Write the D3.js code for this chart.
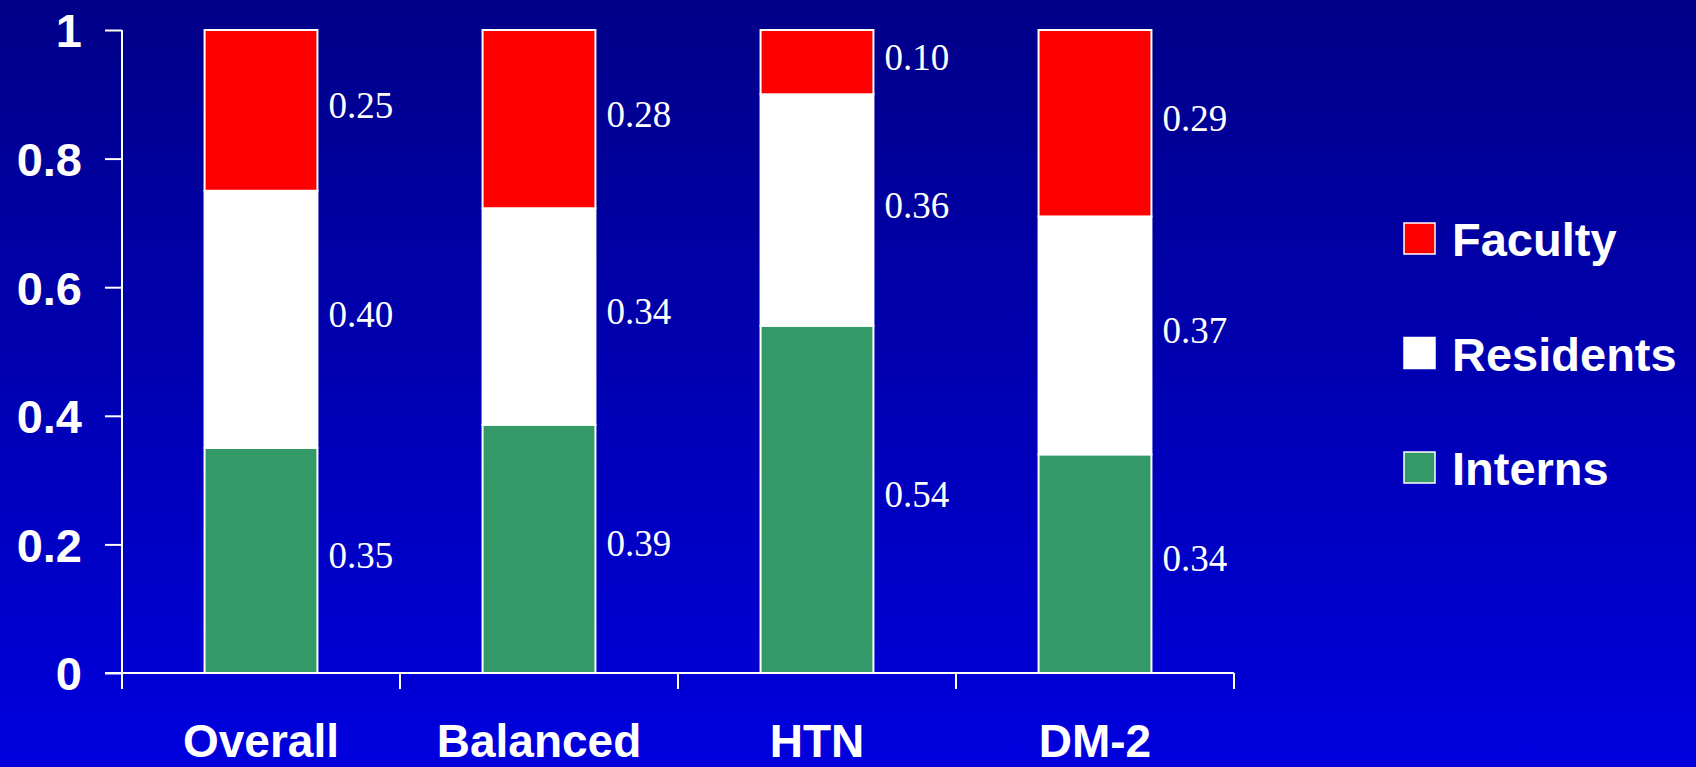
<!DOCTYPE html>
<html>
<head>
<meta charset="utf-8">
<script src="https://cdn.jsdelivr.net/npm/d3@7/dist/d3.min.js"></script>
<style>
  html, body { margin: 0; padding: 0; background: #0000b0; }
  svg { display: block; }
</style>
</head>
<body>
<svg id="chart" width="1696" height="767"></svg>
<script>
// ---- data ----
const categories = ["Overall", "Balanced", "HTN", "DM-2"];
const seriesNames = ["Interns", "Residents", "Faculty"];
const interns   = [0.35, 0.39, 0.54, 0.34];
const residents = [0.40, 0.34, 0.36, 0.37];
const faculty   = [0.25, 0.28, 0.10, 0.29];
const yTicks = [0, 0.2, 0.4, 0.6, 0.8, 1];
const yTickLabels = ["0", "0.2", "0.4", "0.6", "0.8", "1"];
const legendOrder = ["Faculty", "Residents", "Interns"];

// ---- build table ----
const seriesValues = { Interns: interns, Residents: residents, Faculty: faculty };
const table = categories.map((c, i) => {
  const row = { category: c };
  seriesNames.forEach(s => row[s] = seriesValues[s][i]);
  return row;
});

const colors = { Interns: "#339966", Residents: "#ffffff", Faculty: "#ff0000" };

const W = 1696, H = 767;
const svg = d3.select("#chart");

// background gradient
const defs = svg.append("defs");
const grad = defs.append("linearGradient").attr("id", "bg").attr("x1", 0).attr("y1", 0).attr("x2", 0).attr("y2", 1);
grad.append("stop").attr("offset", "0%").attr("stop-color", "#000088");
grad.append("stop").attr("offset", "100%").attr("stop-color", "#0000de");
svg.append("rect").attr("width", W).attr("height", H).attr("fill", "url(#bg)");

// scales
const x = d3.scaleBand().domain(categories).range([122, 1234]).paddingInner(0.594).paddingOuter(0.297);
const y = d3.scaleLinear().domain([0, 1]).range([673, 30]);

// stack (100% stacked)
const stack = d3.stack().keys(seriesNames).offset(d3.stackOffsetExpand);
const stacked = stack(table);

// bars
const g = svg.append("g");
stacked.forEach(layer => {
  g.selectAll(null).data(layer).enter().append("rect")
    .attr("x", d => x(d.data.category))
    .attr("y", d => y(d[1]))
    .attr("width", x.bandwidth())
    .attr("height", d => y(d[0]) - y(d[1]))
    .attr("fill", colors[layer.key])
    .attr("stroke", "#ffffff")
    .attr("stroke-width", 2);
});

// value labels
stacked.forEach(layer => {
  g.selectAll(null).data(layer).enter().append("text")
    .attr("x", d => x(d.data.category) + x.bandwidth() + 11)
    .attr("y", d => (y(d[0]) + y(d[1])) / 2 - 5)
    .attr("dominant-baseline", "central")
    .attr("font-family", "'Liberation Serif', 'Times New Roman', serif")
    .attr("font-size", 37)
    .attr("fill", "#ffffff")
    .text(d => d3.format(".2f")(d.data[layer.key]));
});

// y axis
const yAxis = d3.axisLeft(y).tickValues(yTicks).tickSize(17).tickPadding(23)
  .tickFormat((d, i) => yTickLabels[i]);
const yg = svg.append("g").attr("transform", "translate(122,0)").call(yAxis);
yg.select(".domain").attr("stroke", "#fff").attr("stroke-width", 2).attr("d", `M0,${y(1)}V${y(0)}`);
yg.selectAll(".tick line").attr("stroke", "#fff").attr("stroke-width", 2);
yg.selectAll(".tick text")
  .attr("fill", "#fff")
  .attr("font-family", "'Liberation Sans', Arial, sans-serif")
  .attr("font-weight", "bold")
  .attr("font-size", 47)
  .attr("dy", "0.36em");

// x axis line with ticks at band boundaries
const xg = svg.append("g");
xg.append("line").attr("x1", 105).attr("x2", x.range()[1]).attr("y1", y(0)).attr("y2", y(0))
  .attr("stroke", "#fff").attr("stroke-width", 2);
const boundaries = categories.map(c => x(c) - x.step() * x.paddingInner() / 2).concat([x.range()[1]]);
boundaries[0] = x.range()[0];
xg.selectAll(null).data(boundaries).enter().append("line")
  .attr("x1", d => d).attr("x2", d => d)
  .attr("y1", y(0)).attr("y2", y(0) + 16)
  .attr("stroke", "#fff").attr("stroke-width", 2);

// category labels
xg.selectAll(null).data(categories).enter().append("text")
  .attr("x", d => x(d) + x.bandwidth() / 2)
  .attr("y", 757)
  .attr("text-anchor", "middle")
  .attr("fill", "#fff")
  .attr("font-family", "'Liberation Sans', Arial, sans-serif")
  .attr("font-weight", "bold")
  .attr("font-size", 46)
  .text(d => d);

// legend
const legend = svg.append("g").attr("transform", "translate(1404,223)");
const li = legend.selectAll(null).data(legendOrder).enter().append("g")
  .attr("transform", (d, i) => `translate(0,${i * 114.5})`);
li.append("rect").attr("width", 31).attr("height", 31)
  .attr("fill", d => colors[d]).attr("stroke", "#fff").attr("stroke-width", 1.5);
li.append("text").attr("x", 48).attr("y", 33)
  .attr("fill", "#fff")
  .attr("font-family", "'Liberation Sans', Arial, sans-serif")
  .attr("font-weight", "bold")
  .attr("font-size", 47)
  .text(d => d);
</script>
</body>
</html>
